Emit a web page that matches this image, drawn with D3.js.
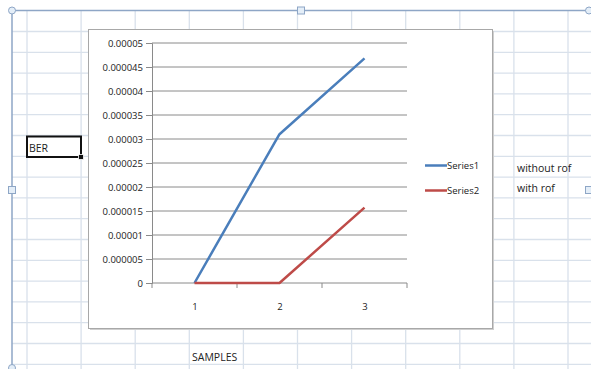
<!DOCTYPE html>
<html>
<head>
<meta charset="utf-8">
<script src="https://cdn.jsdelivr.net/npm/d3@7"></script>
<style>
  html, body { margin: 0; padding: 0; background: #fff; }
  svg { display: block; }
  text { font-family: "Open Sans", "Liberation Sans", sans-serif; fill: #222; }
</style>
</head>
<body>
<svg id="sheet" width="591" height="369"></svg>
<script>
// BER per sample
const categories = ["1", "2", "3"];
const series1 = [0, 0.000031, 0.0000468];   // without rof
const series2 = [0, 0, 0.0000157];          // with rof
const yTicks = [0, 0.000005, 0.00001, 0.000015, 0.00002, 0.000025, 0.00003, 0.000035, 0.00004, 0.000045, 0.00005];
const yTickLabels = ["0", "0.000005", "0.00001", "0.000015", "0.00002", "0.000025", "0.00003", "0.000035", "0.00004", "0.000045", "0.00005"];
const seriesNames = ["Series1", "Series2"];
const seriesNotes = ["without rof", "with rof"];
const seriesColors = ["#4a7ebb", "#be4b48"];

const svg = d3.select("#sheet");

// worksheet cell grid
const gridColor = "#d9e1eb";
const colX = d3.range(27, 591, 54.1);
const rowY = d3.range(31.5, 369, 20.8);
svg.append("g").selectAll("line").data(colX).join("line")
  .attr("x1", d => d).attr("x2", d => d).attr("y1", 11).attr("y2", 369)
  .attr("stroke", gridColor).attr("stroke-width", 1.3);
svg.append("g").selectAll("line").data(rowY).join("line")
  .attr("x1", 12).attr("x2", 591).attr("y1", d => d).attr("y2", d => d)
  .attr("stroke", gridColor).attr("stroke-width", 1.3);

// chart object frame
const frame = svg.append("g");
frame.append("line").attr("x1", 12).attr("x2", 589).attr("y1", 10.5).attr("y2", 10.5)
  .attr("stroke", "#8ea6c6").attr("stroke-width", 1.5);
frame.append("line").attr("x1", 12).attr("x2", 12).attr("y1", 10.5).attr("y2", 369)
  .attr("stroke", "#8ea6c6").attr("stroke-width", 1.5);
[[12, 10.5], [589, 10.5], [12, 368]].forEach(([x, y]) => {
  frame.append("circle").attr("cx", x).attr("cy", y).attr("r", 3.5)
    .attr("fill", "#e4eef8").attr("stroke", "#8ea6c6");
});
[[301, 10.5], [12, 190], [589, 190]].forEach(([x, y]) => {
  frame.append("rect").attr("x", x - 3.5).attr("y", y - 3.5).attr("width", 7).attr("height", 7)
    .attr("fill", "#e4eef8").attr("stroke", "#8ea6c6");
});

// active cell
svg.append("rect").attr("x", 27).attr("y", 136.5).attr("width", 54).attr("height", 20.5)
  .attr("fill", "#fff").attr("stroke", "#111").attr("stroke-width", 2);
svg.append("rect").attr("x", 78.5).attr("y", 154.5).attr("width", 5).attr("height", 5).attr("fill", "#111")
  .attr("stroke", "#fff").attr("stroke-width", 0.8);
svg.append("text").attr("x", 29).attr("y", 152).attr("font-size", 10.5).text("BER");

// notes beside the chart
svg.append("g").selectAll("text").data(seriesNotes).join("text")
  .attr("x", 517).attr("y", (d, i) => 172 + i * 19.5)
  .attr("font-size", 10.5).attr("fill", "#222").text(d => d);

svg.append("text").attr("x", 192).attr("y", 361).attr("font-size", 10.5).text("SAMPLES");

// chart area
svg.append("rect").attr("x", 90).attr("y", 31).attr("width", 404).attr("height", 299)
  .attr("fill", "#cfcfcf");
svg.append("rect").attr("x", 88.5).attr("y", 29.5).attr("width", 404).attr("height", 299)
  .attr("fill", "#fff").attr("stroke", "#a8a8a8").attr("stroke-width", 1);

const plot = { left: 152, right: 407, top: 43, bottom: 283 };
const x = d3.scaleBand().domain(categories).range([plot.left, plot.right]);
const y = d3.scaleLinear().domain([0, 0.00005]).range([plot.bottom, plot.top]);

// horizontal gridlines
svg.append("g").selectAll("line").data(yTicks.slice(1)).join("line")
  .attr("x1", plot.left).attr("x2", plot.right)
  .attr("y1", d => y(d)).attr("y2", d => y(d))
  .attr("stroke", "#8a8a8a").attr("stroke-width", 1);

// y axis
const yAxis = d3.axisLeft(y).tickValues(yTicks)
  .tickFormat((d, i) => yTickLabels[i]).tickSize(6).tickPadding(3);
const gy = svg.append("g").attr("transform", `translate(${plot.left},0)`).call(yAxis);
gy.select(".domain").attr("stroke", "#8a8a8a");
gy.selectAll(".tick line").attr("stroke", "#8a8a8a");
gy.selectAll(".tick text").attr("font-size", 9.5).attr("fill", "#222")
  .attr("font-family", "\"Open Sans\", sans-serif");

// x axis with tick marks on category boundaries
const gx = svg.append("g").attr("transform", `translate(0,${plot.bottom})`);
gx.append("line").attr("x1", plot.left).attr("x2", plot.right).attr("stroke", "#8a8a8a");
const bounds = categories.map(c => x(c)).concat([x(categories[categories.length - 1]) + x.bandwidth()]);
gx.append("g").selectAll("line").data(bounds).join("line")
  .attr("x1", d => d).attr("x2", d => d).attr("y1", 0).attr("y2", 5)
  .attr("stroke", "#8a8a8a");
gx.append("g").selectAll("text").data(categories).join("text")
  .attr("x", d => Math.round(x(d) + x.bandwidth() / 2)).attr("y", 27)
  .attr("text-anchor", "middle").attr("font-size", 9.5).attr("fill", "#222").text(d => d);

// series lines
const line = d3.line()
  .x((d, i) => x(categories[i]) + x.bandwidth() / 2)
  .y(d => y(d));
[series1, series2].forEach((s, i) => {
  svg.append("path").datum(s).attr("d", line)
    .attr("fill", "none").attr("stroke", seriesColors[i]).attr("stroke-width", 2.5)
    .attr("stroke-linejoin", "round");
});

// legend
const lg = svg.append("g");
seriesNames.forEach((n, i) => {
  const ly = 165.5 + i * 25;
  lg.append("line").attr("x1", 425).attr("x2", 447).attr("y1", ly).attr("y2", ly)
    .attr("stroke", seriesColors[i]).attr("stroke-width", 2.5);
  lg.append("text").attr("x", 447).attr("y", ly + 3.5).attr("font-size", 9.5).attr("fill", "#222").text(n);
});
</script>
</body>
</html>
